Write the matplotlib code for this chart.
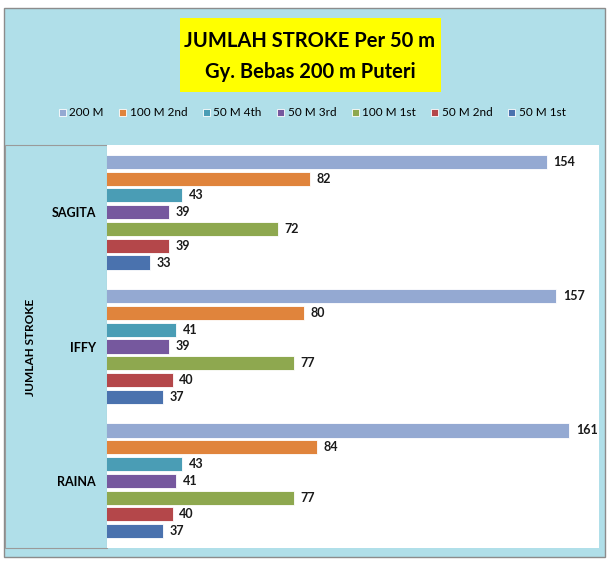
import matplotlib
matplotlib.use("Agg")
import matplotlib.pyplot as plt
from matplotlib.patches import Rectangle

plt.rcParams['font.family'] = ['Lato', 'DejaVu Sans']

# data
perenang = ['SAGITA', 'IFFY', 'RAINA']
seri = ['200 M', '100 M 2nd', '50 M 4th', '50 M 3rd', '100 M 1st', '50 M 2nd', '50 M 1st']
nilai = {
    '200 M':     [154, 157, 161],
    '100 M 2nd': [82, 80, 84],
    '50 M 4th':  [43, 41, 43],
    '50 M 3rd':  [39, 39, 41],
    '100 M 1st': [72, 77, 77],
    '50 M 2nd':  [39, 40, 40],
    '50 M 1st':  [33, 37, 37],
}
warna = ['#94A9D2', '#E0843C', '#4A9DB5', '#76589E', '#8EA84F', '#B4474A', '#4A72AE']
judul = ['JUMLAH STROKE Per 50 m', 'Gy. Bebas 200 m Puteri']

W, H = 609, 561
fig = plt.figure(figsize=(W / 100, H / 100), dpi=100)
bg = '#B0DFE9'
fig.patch.set_facecolor('white')

# background panel + border
fig.patches.append(Rectangle((4 / W, 1 - 557 / H), 601 / W, 549 / H, transform=fig.transFigure,
                             facecolor=bg, edgecolor='#8C8C8C', lw=1.0, zorder=0))
# left box around the category axis
fig.patches.append(Rectangle((5 / W, 1 - 548 / H), 102 / W, 403 / H, transform=fig.transFigure,
                             facecolor=bg, edgecolor='#9A9A9A', lw=0.8, zorder=1))
# yellow title box
fig.patches.append(Rectangle((180 / W, 1 - 92 / H), 261 / W, 74 / H, transform=fig.transFigure,
                             facecolor='#FFFF00', edgecolor='none', zorder=1))

ax = fig.add_axes([107 / W, 1 - 548 / H, (599 - 107) / W, (548 - 145) / H])
ax.set_zorder(3)
ax.set_facecolor('white')

slot = 8
tinggi = 0.84
for j, s in enumerate(seri):
    ys = [i * slot + 1 + j for i in range(len(perenang))]
    ax.barh(ys, nilai[s], height=tinggi, color=warna[j], edgecolor='white',
            linewidth=0.6, label=s)
    for y, v in zip(ys, nilai[s]):
        ax.text(v + 2, y, str(v), va='center', ha='left', fontsize=9, fontweight='bold',
                color='#1a1a1a')

ax.set_xlim(20, 170)
ax.set_ylim(len(perenang) * slot, 0)
ax.set_yticks([i * slot + 4 for i in range(len(perenang))])
ax.set_yticklabels(perenang, fontsize=9, fontweight='bold')
ax.tick_params(axis='y', length=0, pad=8)
ax.set_xticks([])
for sp in ax.spines.values():
    sp.set_visible(False)

fig.text(30 / W, 1 - 347 / H, 'JUMLAH STROKE', rotation=90, ha='center', va='center',
         fontsize=8.5, fontweight='bold', zorder=4)

fig.text(310 / W, 1 - 41 / H, judul[0], ha='center', va='center',
         fontsize=14.5, fontweight='bold', zorder=4)
fig.text(310 / W, 1 - 72 / H, judul[1], ha='center', va='center',
         fontsize=14.5, fontweight='bold', zorder=4)

h, l = ax.get_legend_handles_labels()
leg = fig.legend(h, l, loc='center', bbox_to_anchor=(312 / W, 1 - 113 / H), ncol=7,
                 frameon=False, fontsize=8.5, handlelength=0.6, handleheight=0.6,
                 handletextpad=0.3, columnspacing=1.3)
leg.set_zorder(4)

fig.savefig('out.png', dpi=100)
